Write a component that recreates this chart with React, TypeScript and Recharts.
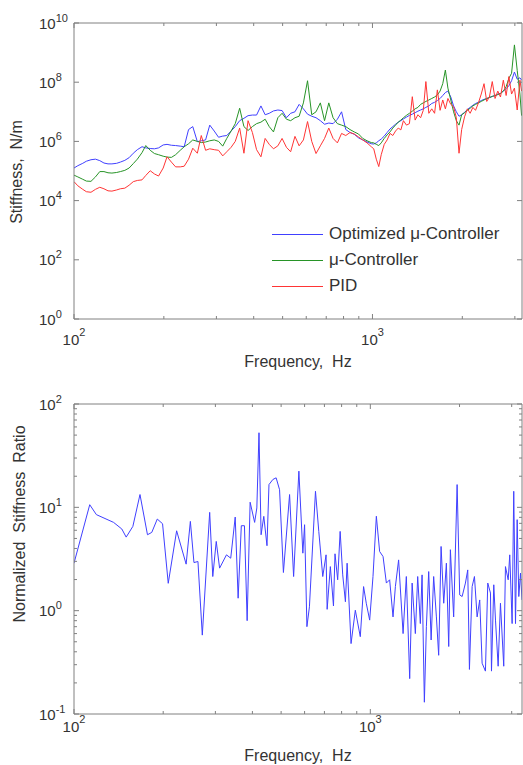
import React from 'react';
import { LineChart, Line, XAxis, YAxis, Legend, Label } from 'recharts';

const FONT = '"Liberation Sans", Arial, Helvetica, sans-serif';
const AXIS = '#808080';
const TEXT = '#333333';

// ---------- top chart data ----------
const topFreq = [
  100, 103, 107, 110, 114, 118, 122, 126, 130, 134,
  139, 143, 148, 153, 158, 163, 169, 174, 180, 186,
  192, 199, 205, 212, 219, 227, 234, 242, 250, 259,
  267, 276, 285, 295, 305, 315, 325, 336, 347, 359,
  371, 383, 396, 409, 423, 437, 451, 466, 482, 498,
  515, 532, 550, 568, 587, 606, 626, 647, 669, 691,
  714, 738, 763, 788, 814, 841, 869, 898, 928, 959,
  991,
  1010, 1030, 1050, 1070, 1095, 1120, 1145, 1170, 1195, 1220,
  1245, 1270, 1300, 1330, 1360, 1390, 1420, 1450, 1480, 1510,
  1545, 1580, 1615, 1650, 1685, 1720, 1755, 1790, 1830, 1870,
  1910, 1950, 1990, 2035, 2080, 2125, 2170, 2215, 2265, 2315,
  2365, 2415, 2465, 2520, 2575, 2630, 2685, 2745, 2805, 2865,
  2925, 2990, 3055, 3120, 3160,
];

const optStiff = [
  1.26e5, 1.51e5, 1.82e5, 2.14e5, 2.4e5, 2.51e5, 2.24e5, 1.86e5, 1.74e5, 1.74e5,
  1.82e5, 2.0e5, 2.29e5, 2.82e5, 3.98e5, 5.25e5, 6.61e5, 6.03e5, 5.75e5, 5.62e5,
  6.03e5, 7.59e5, 7.94e5, 7.41e5, 7.24e5, 6.92e5, 6.61e5, 2.51e6, 3.16e6, 9.77e5,
  1.05e6, 1.12e6, 3.55e6, 2.24e6, 1.38e6, 1.51e6, 1.58e6, 2.24e6, 3.16e6, 5.01e6,
  6.03e6, 7.41e6, 7.76e6, 7.76e6, 1.58e7, 7.94e6, 8.91e6, 1.07e7, 1.15e7, 1.1e7,
  6.31e6, 8.91e6, 1e7, 1.78e7, 1.26e7, 8.32e6, 7.08e6, 6.31e6, 5.01e6, 3.8e6,
  4.17e6, 3.98e6, 5.62e6, 1e7, 2.51e6, 2e6, 1.74e6, 1.32e6, 1.12e6, 9.55e5,
  8.32e5,
  8.13e5, 8.91e5, 1.05e6, 1.2e6, 1.51e6, 2e6, 2.63e6, 3.16e6, 3.8e6, 4.47e6,
  5.01e6, 5.75e6, 6.61e6, 7.59e6, 8.32e6, 9.33e6, 1.05e7, 1.15e7, 1.26e7, 1.41e7,
  1.58e7, 1.91e7, 2.09e7, 2.4e7, 2.82e7, 3.55e7, 4.47e7, 5.01e7, 3.16e7, 1.58e7,
  1e7, 7.08e6, 7.94e6, 9.55e6, 1.2e7, 1.41e7, 1.66e7, 1.91e7, 2.09e7, 2.4e7,
  2.63e7, 2.82e7, 3.02e7, 3.31e7, 3.55e7, 3.98e7, 4.17e7, 5.01e7, 6.03e7, 7.59e7,
  1.12e8, 2.2e8, 1.26e8, 1.41e8, 1.17e8,
];

const muStiff = [
  7.24e4, 6.31e4, 5.25e4, 4.57e4, 4.47e4, 6.31e4, 9.55e4, 9.55e4, 8.71e4, 8.51e4,
  8.91e4, 9.55e4, 1.05e5, 1.26e5, 1.78e5, 2.51e5, 4.17e5, 7.24e5, 5.01e5, 3.89e5,
  3.55e5, 3.16e5, 2.95e5, 2.88e5, 3.55e5, 5.01e5, 6.61e5, 8.32e5, 1.12e6, 1e6,
  9.12e5, 9.55e5, 1.05e6, 1.12e6, 1e6, 6.92e5, 1.26e6, 2.24e6, 3.98e6, 1.32e7,
  3.16e6, 2.34e6, 3.16e6, 3.98e6, 4.47e6, 5.62e6, 3.16e6, 2.09e6, 6.31e6, 8.91e6,
  5.62e6, 5.01e6, 6.31e6, 7.08e6, 2e7, 1.12e8, 7.94e6, 1e7, 2e7, 5.01e6,
  2e7, 6.31e6, 3.98e6, 3.55e6, 3.16e6, 2.51e6, 2.09e6, 1.78e6, 1.26e6, 1.05e6,
  9.12e5,
  8.91e5, 7.94e5, 7.24e5, 8.91e5, 1.26e6, 1.66e6, 2.09e6, 2.82e6, 3.55e6, 4.47e6,
  5.25e6, 6.31e6, 7.59e6, 8.91e6, 1.05e7, 1.26e7, 1.41e7, 1.78e7, 2e7, 2.24e7,
  2.51e7, 2.82e7, 3.16e7, 3.72e7, 5.01e7, 8.91e7, 2.57e8, 6.31e7, 2.51e7, 1e7,
  5.01e6, 3.55e6, 7.94e6, 9.33e6, 1.12e7, 1.32e7, 1.58e7, 1.78e7, 2e7, 2.24e7,
  2.51e7, 2.82e7, 3.02e7, 3.31e7, 3.55e7, 3.8e7, 4.17e7, 5.01e7, 7.08e7, 1.35e8,
  2e8, 1.82e9, 2.51e8, 3.98e7, 7.41e6,
];

const pidStiff = [
  4.37e4, 3.16e4, 2.4e4, 2e4, 1.91e4, 2.4e4, 2.82e4, 2.51e4, 2.14e4, 2.09e4,
  2.29e4, 2.51e4, 2.63e4, 3.31e4, 4.37e4, 4.79e4, 5.01e4, 7.08e4, 1.02e5, 7.94e4,
  6.76e4, 1.26e5, 3.02e5, 2e5, 1.38e5, 1.38e5, 1.45e5, 2.51e5, 5.89e5, 3.98e5,
  1.58e6, 5.01e5, 5.62e5, 5.25e5, 5.01e5, 3.24e5, 4.47e5, 6.31e5, 1e6, 2.82e6,
  3.98e5, 5.01e6, 2e6, 5.25e5, 3.02e5, 1.26e6, 7.94e5, 5.62e5, 7.08e5, 1.26e6,
  6.31e5, 4.47e5, 1.48e6, 7.08e5, 1.12e6, 4.68e6, 1e6, 3.89e5, 7.08e5, 1.26e6,
  2.82e6, 1.26e6, 8.91e5, 1.86e6, 1.58e6, 2e6, 1.78e6, 1.41e6, 1.12e6, 8.91e5,
  6.61e5,
  5.62e5, 2.51e5, 1.41e5, 3.55e5, 7.94e5, 1.12e6, 1.86e6, 1.58e6, 2.24e6, 2.82e6,
  2.45e6, 5.01e6, 3.55e6, 3.98e6, 3.24e7, 5.25e6, 7.94e6, 6.31e6, 1.12e7, 1.05e8,
  8.91e6, 1.26e7, 8.91e6, 5.5e7, 1.12e7, 2.51e7, 1.26e7, 2.82e7, 1.78e7, 1.48e7,
  6.31e6, 3.98e5, 2.51e6, 6.76e6, 1.26e7, 8.91e6, 1.41e7, 1.12e7, 2e7, 3.98e7,
  8.91e7, 2.24e7, 3.16e7, 1.05e8, 2.82e7, 5.01e7, 3.16e7, 1.17e8, 3.55e7, 1.55e8,
  3.98e7, 6.31e7, 1.15e7, 1.17e8, 5.01e7,
];

// ---------- bottom chart data ----------
const bottomFreq = [
  100, 113, 119, 136, 145, 150, 158, 167, 177, 183,
  191, 199, 208, 222, 239, 247, 254, 262, 271, 287,
  294, 302, 310, 327, 338, 350, 358, 367, 376, 384,
  393, 407, 414, 421, 428, 437, 448, 455, 469, 481,
  494, 509, 534, 551, 574, 592, 600, 611, 623, 653,
  670, 691, 709, 715, 733, 751, 760, 776, 791, 807,
  824, 835, 861, 890, 925, 949, 969, 995, 1021, 1048,
  1075, 1104, 1133, 1162, 1193, 1215, 1246, 1290, 1323, 1358,
  1384, 1419, 1445, 1475, 1495, 1522, 1546, 1574, 1604, 1636,
  1671, 1701, 1733, 1769, 1806, 1839, 1863, 1911, 1963, 2003,
  2041, 2094, 2132, 2160, 2206, 2246, 2293, 2340, 2384, 2446,
  2491, 2544, 2564, 2610, 2645, 2700, 2749, 2820, 2858, 2919,
  2955, 3010, 3048, 3090, 3130, 3170, 3213, 3250,
];

const stiffRatio = [
  2.88, 10.6, 8.5, 7.15, 6.17, 5.15, 6.54, 13.3, 5.43, 5.72,
  7.7, 6.94, 1.84, 5.93, 2.82, 7.31, 2.92, 2.99, 0.58, 8.94,
  2.14, 4.68, 2.58, 3.47, 3.22, 8.05, 1.32, 6.64, 6.64, 0.8,
  11.2, 7.15, 9.86, 52.7, 5.43, 8.18, 4.25, 16.6, 18.6, 19.3,
  14.8, 2.34, 13.3, 2.14, 22.4, 3.6, 6.79, 0.7, 1.09, 14.3,
  5.85, 2.14, 3.47, 1.03, 2.67, 1.11, 3.55, 1.99, 5.85, 2.22,
  1.22, 2.88, 0.48, 1.01, 0.56, 1.71, 1.18, 0.81, 2.14, 8.2,
  3.74, 3.34, 1.85, 1.99, 0.87, 1.71, 3.1, 0.6, 2.14, 0.22,
  1.85, 0.6, 2.14, 0.75, 2.22, 0.13, 0.7, 2.39, 0.52, 2.14,
  0.87, 0.37, 4.18, 1.18, 2.88, 0.45, 3.89, 0.87, 16.6, 1.42,
  1.37, 1.85, 2.48, 0.27, 1.71, 2.14, 0.87, 1.27, 0.31, 0.26,
  1.85, 1.48, 0.26, 1.78, 0.81, 0.29, 1.18, 0.29, 2.67, 1.99,
  3.47, 0.75, 14.3, 0.75, 7.6, 1.37, 2.31, 1.27,
];

// ---------- ticks / labels ----------
const freqTicks = [100, 200, 300, 400, 500, 600, 700, 800, 900, 1000, 2000, 3000];
const freqMajor = [100, 1000];
const topFreqDomain = [100, 3170];
const bottomFreqDomain = [100, 3250];
const stiffTicks = [1, 1e2, 1e4, 1e6, 1e8, 1e10];
const stiffMajor = [1, 1e2, 1e4, 1e6, 1e8, 1e10];
const ratioTicks = [
  0.1, 0.2, 0.3, 0.4, 0.5, 0.6, 0.7, 0.8, 0.9,
  1, 2, 3, 4, 5, 6, 7, 8, 9,
  10, 20, 30, 40, 50, 60, 70, 80, 90, 100,
];
const ratioMajor = [0.1, 1, 10, 100];

const seriesKeys = ['opt', 'mu', 'pid'];
const seriesNames = ['Optimized \u03bc-Controller', '\u03bc-Controller', 'PID'];
const seriesColors = ['#4040ff', '#279427', '#ff3535'];

const topRows = topFreq.map((f, k) => ({ f, opt: optStiff[k], mu: muStiff[k], pid: pidStiff[k] }));
const bottomRows = bottomFreq.map((f, k) => ({ f, ratio: stiffRatio[k] }));

const isMajor = (v: number, majors: number[]) => majors.some((m) => Math.abs(m - v) / m < 1e-9);
const expOf = (v: number) => Math.round(Math.log10(v));

function XTick(props: any) {
  const { x, y, payload, majors, labelDy, side } = props;
  const major = isMajor(payload.value, majors);
  const len = major ? 5 : 3;
  const dir = side === 'top' ? 1 : -1;
  return (
    <g>
      <line x1={x} x2={x} y1={y} y2={y + dir * len} stroke={AXIS} strokeWidth={1} />
      {side !== 'top' && major && (
        <text x={x} y={y + labelDy} textAnchor="middle" fontSize={15} fill={TEXT} fontFamily={FONT}>
          <tspan>10</tspan>
          <tspan dy={-9} fontSize={11}>{expOf(payload.value)}</tspan>
        </text>
      )}
    </g>
  );
}

function YTick(props: any) {
  const { x, y, payload, majors, side } = props;
  const major = isMajor(payload.value, majors);
  const len = major ? 5 : 3;
  const dir = side === 'right' ? -1 : 1;
  return (
    <g>
      <line x1={x} x2={x + dir * len} y1={y} y2={y} stroke={AXIS} strokeWidth={1} />
      {side !== 'right' && major && (
        <text x={x - 35} y={y + 5.5} textAnchor="start" fontSize={15} fill={TEXT} fontFamily={FONT}>
          <tspan>10</tspan>
          <tspan dy={-7} fontSize={11}>{expOf(payload.value)}</tspan>
        </text>
      )}
    </g>
  );
}

function XTitle(props: any) {
  const vb = props.viewBox || {};
  return (
    <text x={vb.x + vb.width / 2} y={vb.y + props.dy} textAnchor="middle" fontSize={16} fill={TEXT} fontFamily={FONT}>
      {props.text}
    </text>
  );
}

function YTitle(props: any) {
  const vb = props.viewBox || {};
  const cx = vb.x + props.dx;
  const cy = vb.y + vb.height / 2 + props.dy;
  return (
    <text x={cx} y={cy} transform={`rotate(-90, ${cx}, ${cy})`} textAnchor="middle" fontSize={16} fill={TEXT} fontFamily={FONT}>
      {props.text}
    </text>
  );
}

function LegendBox() {
  return (
    <div style={{ fontFamily: FONT }}>
      {seriesNames.map((name, k) => (
        <div key={name} style={{ display: 'flex', alignItems: 'center', height: 26 }}>
          <svg width={51} height={3} style={{ marginRight: 6, display: 'block' }}>
            <line x1={0} x2={51} y1={1.5} y2={1.5} stroke={seriesColors[k]} strokeWidth={1} />
          </svg>
          <span style={{ fontSize: 17, color: TEXT, lineHeight: '26px', whiteSpace: 'nowrap' }}>{name}</span>
        </div>
      ))}
    </div>
  );
}

function StiffnessChart() {
  return (
    <LineChart width={523} height={380} data={topRows} margin={{ top: 22, right: 0, bottom: 0, left: 0 }}>
      <XAxis
        xAxisId="b" dataKey="f" type="number" scale="log" domain={topFreqDomain} allowDataOverflow
        ticks={freqTicks} interval={0} height={61} tickSize={0} tickMargin={0} tickLine={false}
        axisLine={{ stroke: AXIS }}
        tick={(p: any) => <XTick {...p} majors={freqMajor} labelDy={26} side="bottom" />}
      >
        <Label content={(p: any) => <XTitle {...p} dy={48} text={'Frequency,\u00a0\u00a0Hz'} />} />
      </XAxis>
      <XAxis
        xAxisId="t" orientation="top" dataKey="f" type="number" scale="log" domain={topFreqDomain} allowDataOverflow
        ticks={freqTicks} interval={0} height={1} tickSize={0} tickMargin={0} tickLine={false}
        axisLine={{ stroke: AXIS }}
        tick={(p: any) => <XTick {...p} majors={freqMajor} side="top" />}
      />
      <YAxis
        yAxisId="l" type="number" scale="log" domain={[1, 1e10]} allowDataOverflow
        ticks={stiffTicks} interval={0} width={74} tickSize={0} tickMargin={0} tickLine={false}
        axisLine={{ stroke: AXIS }}
        tick={(p: any) => <YTick {...p} majors={stiffMajor} side="left" />}
      >
        <Label content={(p: any) => <YTitle {...p} dx={22} dy={1} text={'Stiffness,\u00a0\u00a0N/m'} />} />
      </YAxis>
      <YAxis
        yAxisId="r" orientation="right" type="number" scale="log" domain={[1, 1e10]} allowDataOverflow
        ticks={stiffTicks} interval={0} width={1} tickSize={0} tickMargin={0} tickLine={false}
        axisLine={{ stroke: AXIS }}
        tick={(p: any) => <YTick {...p} majors={stiffMajor} side="right" />}
      />
      <Legend
        layout="vertical" align="center" verticalAlign="middle"
        wrapperStyle={{ position: 'absolute', left: 272, top: 221, width: 245, height: 78 }}
        content={() => <LegendBox />}
      />
      {seriesKeys.map((key, k) => (
        <Line
          key={key} xAxisId="b" yAxisId="l" type="linear" dataKey={key} name={seriesNames[k]}
          stroke={seriesColors[k]} strokeWidth={1} dot={false} activeDot={false} isAnimationActive={false}
        />
      ))}
    </LineChart>
  );
}

function RatioChart() {
  return (
    <LineChart width={523} height={385} data={bottomRows} margin={{ top: 23, right: 0, bottom: 0, left: 0 }}>
      <XAxis
        xAxisId="b" dataKey="f" type="number" scale="log" domain={bottomFreqDomain} allowDataOverflow
        ticks={freqTicks} interval={0} height={51} tickSize={0} tickMargin={0} tickLine={false}
        axisLine={{ stroke: AXIS }}
        tick={(p: any) => <XTick {...p} majors={freqMajor} labelDy={18} side="bottom" />}
      >
        <Label content={(p: any) => <XTitle {...p} dy={47} text={'Frequency,\u00a0\u00a0Hz'} />} />
      </XAxis>
      <XAxis
        xAxisId="t" orientation="top" dataKey="f" type="number" scale="log" domain={bottomFreqDomain} allowDataOverflow
        ticks={freqTicks} interval={0} height={1} tickSize={0} tickMargin={0} tickLine={false}
        axisLine={{ stroke: AXIS }}
        tick={(p: any) => <XTick {...p} majors={freqMajor} side="top" />}
      />
      <YAxis
        yAxisId="l" type="number" scale="log" domain={[0.1, 100]} allowDataOverflow
        ticks={ratioTicks} interval={0} width={74} tickSize={0} tickMargin={0} tickLine={false}
        axisLine={{ stroke: AXIS }}
        tick={(p: any) => <YTick {...p} majors={ratioMajor} side="left" />}
      >
        <Label content={(p: any) => <YTitle {...p} dx={25} dy={-35} text={'Normalized\u00a0\u00a0Stiffness\u00a0\u00a0Ratio'} />} />
      </YAxis>
      <YAxis
        yAxisId="r" orientation="right" type="number" scale="log" domain={[0.1, 100]} allowDataOverflow
        ticks={ratioTicks} interval={0} width={1} tickSize={0} tickMargin={0} tickLine={false}
        axisLine={{ stroke: AXIS }}
        tick={(p: any) => <YTick {...p} majors={ratioMajor} side="right" />}
      />
      <Line
        xAxisId="b" yAxisId="l" type="linear" dataKey="ratio" stroke={seriesColors[0]} strokeWidth={1}
        dot={false} activeDot={false} isAnimationActive={false}
      />
    </LineChart>
  );
}

export default function App() {
  return (
    <div style={{ position: 'absolute', left: 0, top: 0, width: 523, height: 765, background: '#ffffff', fontFamily: FONT }}>
      <div style={{ position: 'absolute', left: 0, top: 0 }}>
        <StiffnessChart />
      </div>
      <div style={{ position: 'absolute', left: 0, top: 380 }}>
        <RatioChart />
      </div>
    </div>
  );
}
